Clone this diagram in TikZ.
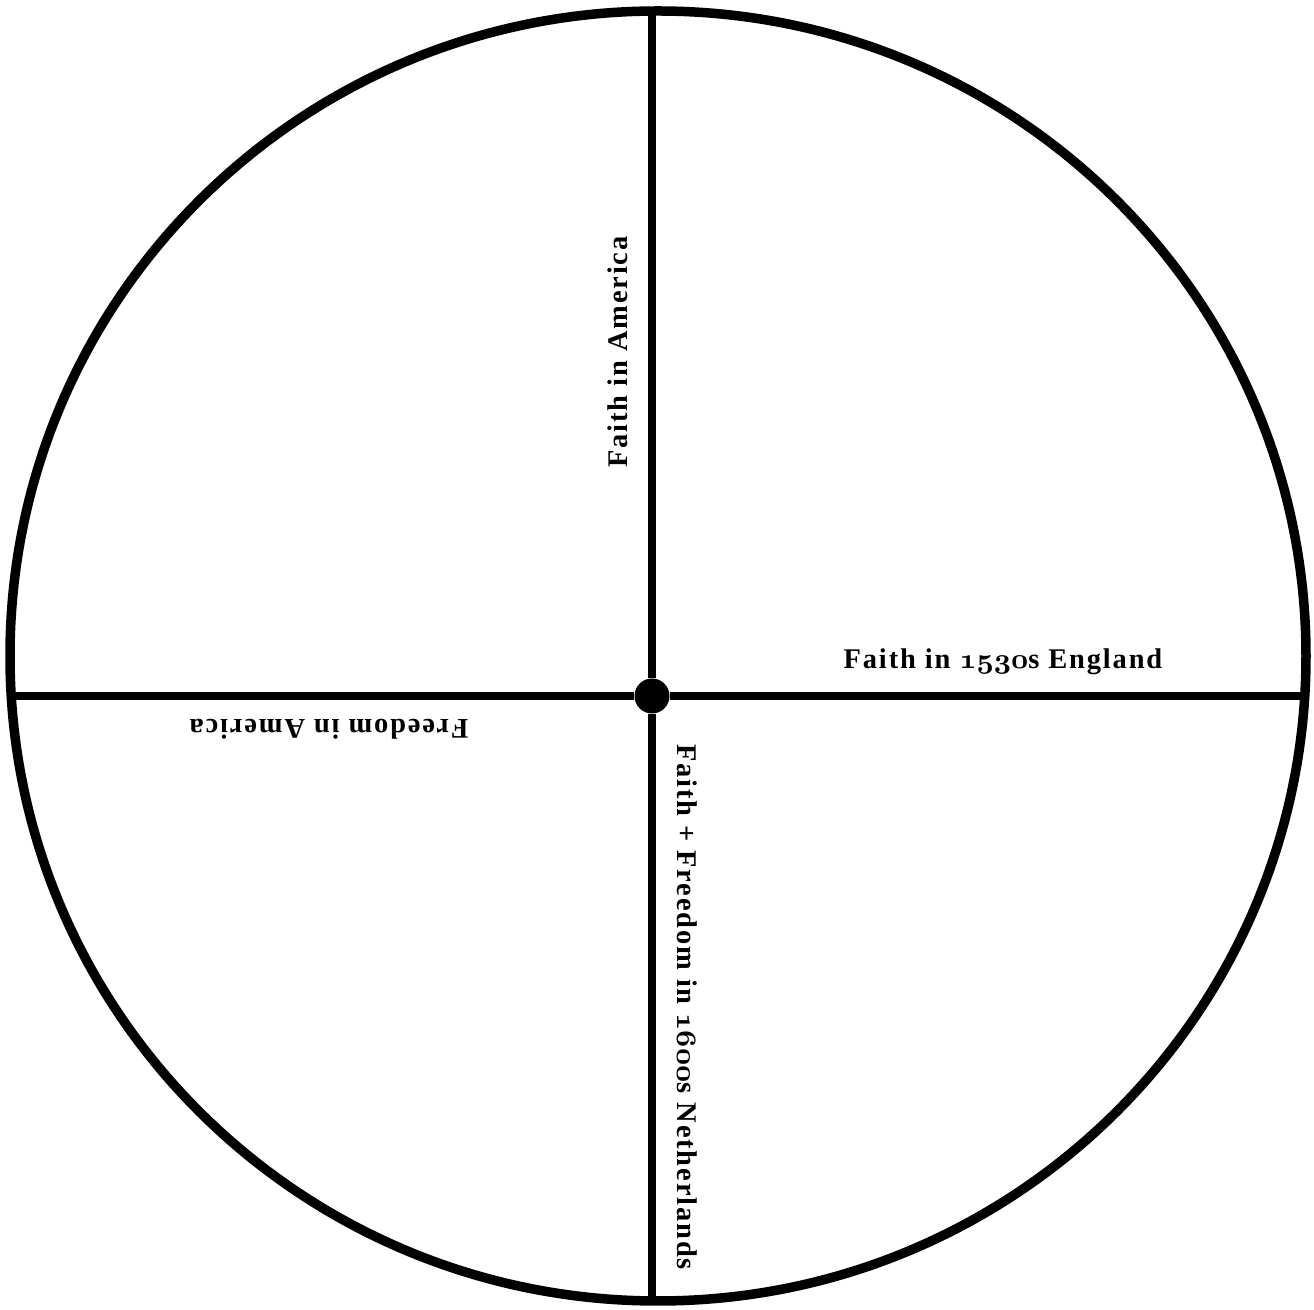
\documentclass[tikz,border=0pt]{standalone}
\usepackage{fontspec}
\setmainfont{Liberation Serif}
\newfontfamily\quadfont{Liberation Serif}[LetterSpace=6.5]
\newcommand{\oldnum}[1]{{\usefont{OML}{cmm}{b}{it}#1}}

\begin{document}
\begin{tikzpicture}[
  x=0.1mm, y=-0.1mm,
  rim/.style={draw, line width=0.95mm},
  spoke/.style={draw, line width=0.8mm},
  hub/.style={circle, fill=black, inner sep=0pt, minimum size=3.5mm},
  quadrant/.style={font=\quadfont\bfseries\fontsize{8.1}{10}\selectfont,
    inner sep=0pt, anchor=base}
]
  \useasboundingbox (0,0) rectangle (1314,1310);
  \draw[rim] (658,656) ellipse [x radius=648, y radius=645];

  \node[hub] (hub) at (652,696) {};
  \coordinate (north) at (652,11);
  \coordinate (south) at (652,1301);
  \coordinate (west) at (11,696);
  \coordinate (east) at (1305,696);

  \path[spoke] (hub) -- (north);
  \path[spoke] (hub) -- (south);
  \path[spoke] (hub) -- (west);
  \path[spoke] (hub) -- (east);

  \node[quadrant] (england) at (1003,669) {Faith in \oldnum{1530}s England};
  \node[quadrant, rotate=180] (freedom) at (329,720) {Freedom in America};
  \node[quadrant, rotate=90] (faith) at (627,352) {Faith in America};
  \node[quadrant, rotate=-90] (netherlands) at (677,1007)
    {Faith + Freedom in \oldnum{1600}s Netherlands};
\end{tikzpicture}
\end{document}
